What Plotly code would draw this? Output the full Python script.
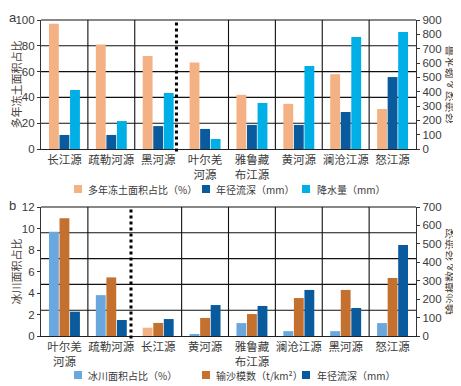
import plotly.graph_objects as go

# ---------- data: panel a ----------
cats_a = ["长江源", "疏勒河源", "黑河源", "叶尔羌<br>河源", "雅鲁藏<br>布江源", "黄河源", "澜沧江源", "怒江源"]
permafrost_pct = [97, 81, 72, 67, 42, 35, 58, 31]
runoff_a_mm = [98, 98, 160, 140, 168, 168, 258, 502]
precip_mm = [412, 195, 391, 70, 321, 579, 782, 816]

# ---------- data: panel b ----------
cats_b = ["叶尔羌<br>河源", "疏勒河源", "长江源", "黄河源", "雅鲁藏<br>布江源", "澜沧江源", "黑河源", "怒江源"]
glacier_pct = [9.7, 3.8, 0.77, 0.1, 1.2, 0.45, 0.45, 1.2]
sediment_t_km2 = [639, 318, 71, 98, 119, 206, 250, 315]
runoff_b_mm = [132, 87, 92, 168, 163, 250, 152, 494]

legend_a = ["多年冻土面积占比（%）", "年径流深（mm）", "降水量（mm）"]
legend_b = ["冰川面积占比（%）", "输沙模数（t/km²）", "年径流深（mm）"]

C_PINK = "#f4b183"
C_DBLUE = "#0a5b9e"
C_LBLUE = "#00afe6"
C_SKY = "#6aa7dd"
C_BROWN = "#c4702f"
TXT = "#3a3a3a"
CJK = "Noto Sans CJK SC"
LAT = "Liberation Sans"

# page has an 8px body margin: figure is sized so the plot sits where the reference has it
OFF = 8
W, H = 461 - OFF, 386 - OFF
ML, MT = 41 - OFF, 20 - OFF
MR = W - (416 - OFF)
MB = H - (336 - OFF)
PW, PH = W - ML - MR, H - MT - MB


def px(xp):  # page x pixel -> paper
    return (xp - 41) / PW


def py(yp):  # page y pixel -> paper
    return (336 - yp) / PH


BW = 0.21
OFFS = [-0.33, -0.105, 0.12]

fig = go.Figure()
# panel a
fig.add_bar(x=cats_a, y=permafrost_pct, name=legend_a[0], marker_color=C_PINK,
            xaxis="x", yaxis="y", width=BW, offset=OFFS[0], offsetgroup="a1")
fig.add_bar(x=cats_a, y=runoff_a_mm, name=legend_a[1], marker_color=C_DBLUE,
            xaxis="x", yaxis="y2", width=BW, offset=OFFS[1], offsetgroup="a2")
fig.add_bar(x=cats_a, y=precip_mm, name=legend_a[2], marker_color=C_LBLUE,
            xaxis="x", yaxis="y2", width=BW, offset=OFFS[2], offsetgroup="a3")
# panel b
glacier_colors = [C_SKY] * len(cats_b)
glacier_colors[2] = C_PINK
fig.add_bar(x=cats_b, y=glacier_pct, name=legend_b[0], marker_color=glacier_colors,
            xaxis="x2", yaxis="y3", width=BW, offset=OFFS[0], offsetgroup="b1")
fig.add_bar(x=cats_b, y=sediment_t_km2, name=legend_b[1], marker_color=C_BROWN,
            xaxis="x2", yaxis="y4", width=BW, offset=OFFS[1], offsetgroup="b2")
fig.add_bar(x=cats_b, y=runoff_b_mm, name=legend_b[2], marker_color=C_DBLUE,
            xaxis="x2", yaxis="y4", width=BW, offset=OFFS[2], offsetgroup="b3")
fig.update_traces(marker_line_width=0, showlegend=False)

tickfont = dict(family=LAT, size=11.5, color=TXT)
catfont = dict(family=CJK, size=11.5, color=TXT)
titlefont = dict(family=CJK, size=11, color="#4a3f3a")
axcommon = dict(showline=True, linecolor="#333", linewidth=1.2, ticks="outside",
                ticklen=3, tickcolor="#333", showgrid=False, zeroline=False,
                tickfont=tickfont, automargin=False)
xcommon = dict(domain=[0, 1], range=[-0.5, 7.5], showline=True, linecolor="#222",
               linewidth=1.2, ticks="", tickfont=catfont, showgrid=False,
               zeroline=False, automargin=False)

DOM_A = [py(149), py(20)]
DOM_B = [py(336), py(207)]

fig.update_layout(
    width=W, height=H, margin=dict(l=ML, r=MR, t=MT, b=MB, autoexpand=False),
    paper_bgcolor="white", plot_bgcolor="white",
    barmode="overlay", showlegend=False,
    xaxis=dict(anchor="y", **xcommon),
    yaxis=dict(domain=DOM_A, anchor="x", range=[0, 100], dtick=20,
               title=dict(text="多年冻土面积占比", font=titlefont, standoff=12), **axcommon),
    yaxis2=dict(overlaying="y", side="right", anchor="x", range=[0, 900], dtick=100,
                ticklabelstandoff=0,
                title=dict(text="径流深 & 降水量", font=titlefont, standoff=0), **axcommon),
    xaxis2=dict(anchor="y3", **xcommon),
    yaxis3=dict(domain=DOM_B, anchor="x2", range=[0, 12], dtick=2,
                title=dict(text="冰川面积占比", font=titlefont, standoff=12), **axcommon),
    yaxis4=dict(overlaying="y3", side="right", anchor="x2", range=[0, 700], dtick=100,
                ticklabelstandoff=0,
                title=dict(text="输沙模数& 径流深", font=titlefont, standoff=0), **axcommon),
)

shapes = []
# horizontal grid lines (5 equal parts)
for yref in ["y domain", "y3 domain"]:
    xr = "x" if yref == "y domain" else "x2"
    for f in [0.2, 0.4, 0.6, 0.8, 1.0]:
        shapes.append(dict(type="line", xref=xr + " domain", yref=yref, x0=0, x1=1,
                           y0=f, y1=f, line=dict(color="#111", width=1.1), layer="below"))
# vertical separators
for xr, yref, skip, dotx in [("x", "y domain", 2.5, 2.39), ("x2", "y3 domain", 1.5, 1.42)]:
    for b in [0.5, 1.5, 2.5, 3.5, 4.5, 5.5, 6.5]:
        if b == skip:
            continue
        shapes.append(dict(type="line", xref=xr, yref=yref, x0=b, x1=b, y0=0, y1=1,
                           line=dict(color="#111", width=1.1), layer="below"))
    shapes.append(dict(type="line", xref=xr, yref=yref, x0=dotx, x1=dotx, y0=-0.02, y1=1,
                       line=dict(color="#000", width=3, dash="dot"), layer="above"))

annotations = []
# custom legends
leg_rows = [
    (189, legend_a, [C_PINK, C_DBLUE, C_LBLUE]),
    (375, legend_b, [C_SKY, C_BROWN, C_DBLUE]),
]
sq_x = [74, 202, 302]
tx_x = [86, 214, 315]
for yc, labels, cols in leg_rows:
    for sx, tx, lab, col in zip(sq_x, tx_x, labels, cols):
        shapes.append(dict(type="rect", xref="paper", yref="paper",
                           x0=px(sx), x1=px(sx + 8), y0=py(yc + 4), y1=py(yc - 4),
                           fillcolor=col, line=dict(width=0)))
        annotations.append(dict(xref="paper", yref="paper", x=px(tx), y=py(yc),
                                xanchor="left", yanchor="middle", text=lab, showarrow=False,
                                font=dict(family=CJK, size=10, color=TXT)))
# panel letters
annotations.append(dict(xref="paper", yref="paper", x=px(13), y=py(18), text="a",
                        xanchor="center", yanchor="middle", showarrow=False, borderpad=0,
                        font=dict(family=LAT, size=13, color=TXT)))
annotations.append(dict(xref="paper", yref="paper", x=px(13), y=py(205), text="b",
                        xanchor="center", yanchor="middle", showarrow=False, borderpad=0,
                        font=dict(family=LAT, size=13, color=TXT)))

fig.update_layout(shapes=shapes, annotations=annotations)
fig.write_html("out.html")
